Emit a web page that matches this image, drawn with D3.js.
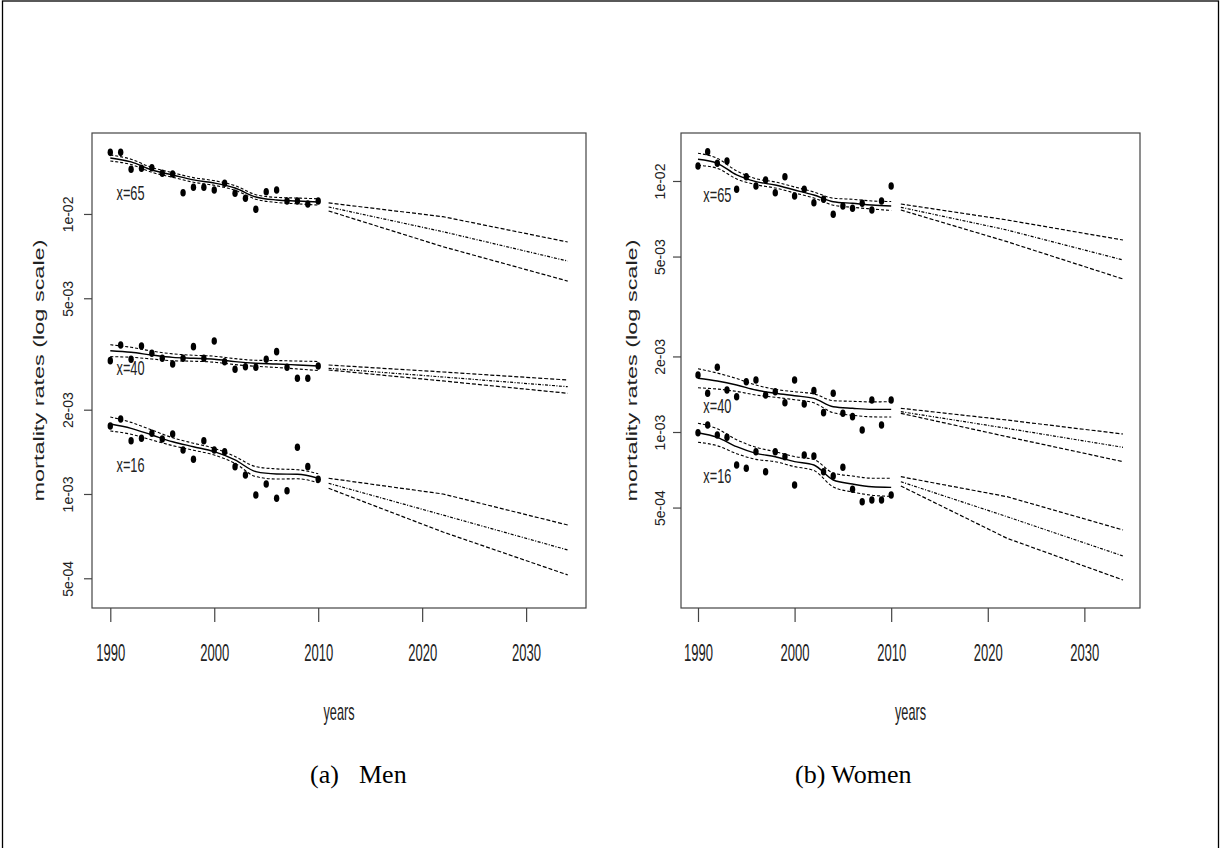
<!DOCTYPE html>
<html>
<head>
<meta charset="utf-8">
<script src="https://cdn.jsdelivr.net/npm/d3@7"></script>
<style>
	body { margin: 0; background: #fff; }
	svg { display: block; }
</style>
</head>
<body>
<script>
const WIDTH = 1220;
const HEIGHT = 848;
const SANS = "'Liberation Sans', Arial, sans-serif";
const SERIF = "'Liberation Serif', 'Times New Roman', serif";

// ---- axis ticks ----
const xTickValues = [1990, 2000, 2010, 2020, 2030];
const xTickLabels = ["1990", "2000", "2010", "2020", "2030"];
const yTickValues = [0.0005, 0.001, 0.002, 0.005, 0.01];
const yTickLabels = ["5e-04", "1e-03", "2e-03", "5e-03", "1e-02"];

// ---- observed rates, one per year ----
const obsYears = [1990, 1991, 1992, 1993, 1994, 1995, 1996, 1997, 1998, 1999, 2000,
	2001, 2002, 2003, 2004, 2005, 2006, 2007, 2008, 2009, 2010];

const menObs65 = [0.0166, 0.0166, 0.01444, 0.01456, 0.01463, 0.01397, 0.01389, 0.01191, 0.01246, 0.01246, 0.01218,
	0.01287, 0.01186, 0.01138, 0.01039, 0.01201, 0.01218, 0.01113, 0.01113, 0.01086, 0.01113];
const menObs40 = [0.002993, 0.003404, 0.003029, 0.003378, 0.003181, 0.003053, 0.002912, 0.003053, 0.003358, 0.003053, 0.003519,
	0.002968, 0.002788, 0.002848, 0.002835, 0.003029, 0.003223, 0.002835, 0.002589, 0.002589, 0.002865];
const menObs16 = [0.001749, 0.001853, 0.00155, 0.001581, 0.001647, 0.001572, 0.001637, 0.001436, 0.00133, 0.00155, 0.001436,
	0.001416, 0.001252, 0.001169, 0.000992, 0.001086, 0.000965, 0.001027, 0.001468, 0.001252, 0.001128];

const womenObs65 = [0.01147, 0.01308, 0.01176, 0.01201, 0.009267, 0.0104, 0.009552, 0.01009, 0.008982, 0.0104, 0.008715,
	0.009267, 0.008194, 0.008455, 0.007368, 0.007949, 0.007783, 0.00815, 0.007663, 0.008325, 0.009552];
const womenObs40 = [0.001687, 0.001426, 0.001811, 0.00147, 0.001382, 0.001586, 0.001611, 0.001404, 0.001447, 0.001308, 0.001611,
	0.001293, 0.001461, 0.001194, 0.001426, 0.001187, 0.001151, 0.001019, 0.001341, 0.001066, 0.001341];
const womenObs16 = [0.0009936, 0.001066, 0.0009727, 0.0009526, 0.0007387, 0.0007167, 0.0008346, 0.0006947, 0.0008346, 0.0007971, 0.0006149,
	0.0008096, 0.0008022, 0.0006947, 0.0006679, 0.0007233, 0.0005911, 0.0005277, 0.000536, 0.000536, 0.000561];

// ---- smoothed fit and its band ----
const fitYears = [1990, 1992, 1994, 1996, 1998, 2000, 2002, 2004, 2006, 2008, 2010];

const menFit65 = [0.01585, 0.01534, 0.01436, 0.01378, 0.01323, 0.0129, 0.01238, 0.0115, 0.01122, 0.01113, 0.01104];
const menHi65 = [0.01626, 0.01568, 0.01465, 0.01404, 0.01348, 0.01315, 0.01262, 0.01172, 0.01146, 0.0114, 0.01133];
const menLo65 = [0.01545, 0.01501, 0.01408, 0.01352, 0.01298, 0.01266, 0.01215, 0.01129, 0.01099, 0.01087, 0.01076];

const menFit40 = [0.003249, 0.003206, 0.003135, 0.003076, 0.003053, 0.003029, 0.002969, 0.002929, 0.002912, 0.002888, 0.002865];
const menHi40 = [0.003411, 0.003341, 0.003238, 0.003165, 0.003129, 0.003105, 0.003043, 0.003002, 0.002996, 0.002983, 0.002974];
const menLo40 = [0.003094, 0.003077, 0.003035, 0.002989, 0.002979, 0.002955, 0.002897, 0.002858, 0.00283, 0.002796, 0.00276];

const menFit16 = [0.001778, 0.001716, 0.001624, 0.001537, 0.001475, 0.001416, 0.001323, 0.001202, 0.001179, 0.001176, 0.001138];
const menHi16 = [0.001883, 0.001802, 0.001692, 0.001588, 0.001518, 0.001456, 0.001361, 0.001252, 0.001229, 0.001221, 0.001181];
const menLo16 = [0.001679, 0.001634, 0.001559, 0.001488, 0.001433, 0.001377, 0.001286, 0.001154, 0.001131, 0.001133, 0.001096];

const womenFit65 = [0.0122, 0.01176, 0.01057, 0.009936, 0.00964, 0.009208, 0.008794, 0.00827, 0.00815, 0.008024, 0.007949];
const womenHi65 = [0.01289, 0.01231, 0.01097, 0.01021, 0.00991, 0.009465, 0.00904, 0.00854, 0.008455, 0.008324, 0.008284];
const womenLo65 = [0.01155, 0.01123, 0.01019, 0.009666, 0.009378, 0.008958, 0.008555, 0.008009, 0.007856, 0.007735, 0.007628];

const womenFit40 = [0.001637, 0.001596, 0.001539, 0.00147, 0.001426, 0.001395, 0.001362, 0.001261, 0.001243, 0.001231, 0.001231];
const womenHi40 = [0.001786, 0.001717, 0.001633, 0.001539, 0.001479, 0.001447, 0.001419, 0.001333, 0.001325, 0.001318, 0.001321];
const womenLo40 = [0.0015, 0.001483, 0.001451, 0.001404, 0.001375, 0.001345, 0.001307, 0.001193, 0.001166, 0.001149, 0.001147];

const womenFit16 = [0.0009936, 0.0009526, 0.0008737, 0.0008225, 0.0007971, 0.000762, 0.0007387, 0.0006438, 0.0006205, 0.0006054, 0.000602];
const womenHi16 = [0.001084, 0.00103, 0.0009314, 0.0008694, 0.0008346, 0.0007978, 0.0007771, 0.0006863, 0.0006677, 0.0006544, 0.0006538];
const womenLo16 = [0.0009107, 0.0008812, 0.0008196, 0.0007781, 0.0007613, 0.0007278, 0.0007022, 0.000604, 0.0005767, 0.00056, 0.0005543];

// ---- projections (upper, central, lower) ----
const projYears = [2011, 2022, 2034];

const menProjHi65 = [0.01095, 0.00978, 0.00794];
const menProjMid65 = [0.01059, 0.008644, 0.00679];
const menProjLo65 = [0.01025, 0.007641, 0.00576];

const menProjHi40 = [0.002888, 0.002727, 0.002553];
const menProjMid40 = [0.002811, 0.002617, 0.002416];
const menProjLo40 = [0.002772, 0.002533, 0.002289];

const menProjHi16 = [0.001138, 0.001, 0.000775];
const menProjMid16 = [0.001092, 0.000841, 0.000631];
const menProjLo16 = [0.001048, 0.0007315, 0.000514];

const womenProjHi65 = [0.008096, 0.006994, 0.005819];
const womenProjMid65 = [0.007855, 0.006379, 0.004846];
const womenProjLo65 = [0.007663, 0.005731, 0.00407];

const womenProjHi40 = [0.001243, 0.001116, 0.0009817];
const womenProjMid40 = [0.001205, 0.001034, 0.000869];
const womenProjLo40 = [0.001187, 0.0009578, 0.000762];

const womenProjHi16 = [0.0006636, 0.0005525, 0.0004071];
const womenProjMid16 = [0.0006339, 0.0004598, 0.0003206];
const womenProjLo16 = [0.0006093, 0.0003771, 0.0002573];

// where the age labels sit (year, rate)
const ageNames = ["x=65", "x=40", "x=16"];
const menLabelAt = [[1990.6, 0.01122], [1990.6, 0.00266], [1990.6, 0.0012]];
const womenLabelAt = [[1990.55, 0.008247], [1990.55, 0.00119], [1990.55, 0.000626]];

const svg = d3.select("body").append("svg")
	.attr("width", WIDTH)
	.attr("height", HEIGHT);

// outer frame of the figure
svg.append("rect")
	.attr("x", 2.5).attr("y", 1)
	.attr("width", 1216).attr("height", 900)
	.attr("fill", "none")
	.attr("stroke", "#000")
	.attr("stroke-width", 1.3);

const panels = [
	{
		left: 92, right: 586, top: 133, bottom: 608,
		yDomain: [0.01946, 0.0003916],
		titleX: 44, labelOff: 19,
		captionParts: [["(a)", 310], ["Men", 359]],
		labelAt: menLabelAt,
		series: [
			[menObs65, menFit65, menHi65, menLo65, menProjHi65, menProjMid65, menProjLo65],
			[menObs40, menFit40, menHi40, menLo40, menProjHi40, menProjMid40, menProjLo40],
			[menObs16, menFit16, menHi16, menLo16, menProjHi16, menProjMid16, menProjLo16]
		]
	},
	{
		left: 681, right: 1140, top: 133, bottom: 608,
		yDomain: [0.01553, 0.000199],
		titleX: 637, labelOff: 16,
		captionParts: [["(b) Women", 795]],
		labelAt: womenLabelAt,
		series: [
			[womenObs65, womenFit65, womenHi65, womenLo65, womenProjHi65, womenProjMid65, womenProjLo65],
			[womenObs40, womenFit40, womenHi40, womenLo40, womenProjHi40, womenProjMid40, womenProjLo40],
			[womenObs16, womenFit16, womenHi16, womenLo16, womenProjHi16, womenProjMid16, womenProjLo16]
		]
	}
];

function drawPanel(p) {
	const g = svg.append("g");

	const x = d3.scaleLinear().domain([1988.24, 2035.76]).range([p.left, p.right]);
	const y = d3.scaleLog().domain(p.yDomain).range([p.top, p.bottom]);

	const smooth = d3.line().x((d, i) => x(fitYears[i])).y(d => y(d)).curve(d3.curveMonotoneX);
	const straight = d3.line().x((d, i) => x(projYears[i])).y(d => y(d));

	p.series.forEach((s, k) => {
		const [obs, fit, hi, lo, pHi, pMid, pLo] = s;

		// fitted band
		[hi, lo].forEach(band => {
			g.append("path")
				.attr("d", smooth(band))
				.attr("fill", "none")
				.attr("stroke", "#000")
				.attr("stroke-width", 1.1)
				.attr("stroke-dasharray", "3,2");
		});
		g.append("path")
			.attr("d", smooth(fit))
			.attr("fill", "none")
			.attr("stroke", "#000")
			.attr("stroke-width", 1.4);

		// projections
		[[pHi, "4,2"], [pMid, "3,1.5,1,1.5"], [pLo, "4,2"]].forEach(([vals, dash]) => {
			g.append("path")
				.attr("d", straight(vals))
				.attr("fill", "none")
				.attr("stroke", "#000")
				.attr("stroke-width", 1.2)
				.attr("stroke-dasharray", dash);
		});

		// observed points
		g.selectAll(null)
			.data(obs)
			.enter()
			.append("ellipse")
			.attr("cx", (d, i) => x(obsYears[i]))
			.attr("cy", d => y(d))
			.attr("rx", 2.7)
			.attr("ry", 3.8)
			.attr("fill", "#000");

		// age label
		g.append("text")
			.attr("x", x(p.labelAt[k][0]))
			.attr("y", y(p.labelAt[k][1]))
			.attr("font-family", SANS)
			.attr("font-size", 21)
			.attr("textLength", 28)
			.attr("lengthAdjust", "spacingAndGlyphs")
			.attr("fill", "#222")
			.text(ageNames[k]);
	});

	// plot box
	g.append("rect")
		.attr("x", p.left).attr("y", p.top)
		.attr("width", p.right - p.left).attr("height", p.bottom - p.top)
		.attr("fill", "none")
		.attr("stroke", "#444")
		.attr("stroke-width", 1.2);

	// x axis
	g.append("g")
		.attr("transform", `translate(0,${p.bottom})`)
		.call(d3.axisBottom(x).tickValues(xTickValues).tickFormat((d, i) => xTickLabels[i]).tickSize(14).tickSizeOuter(0))
		.attr("font-family", SANS)
		.call(a => a.select(".domain").remove())
		.call(a => a.selectAll("line").attr("stroke", "#444").attr("stroke-width", 1.2))
		.call(a => a.selectAll("text")
			.attr("y", 53).attr("dy", null)
			.attr("font-size", 23)
			.attr("textLength", 29)
			.attr("lengthAdjust", "spacingAndGlyphs")
			.attr("fill", "#222"));

	// y axis, labels turned
	g.append("g")
		.attr("transform", `translate(${p.left},0)`)
		.call(d3.axisLeft(y).tickValues(yTickValues).tickFormat((d, i) => yTickLabels[i]).tickSize(8).tickSizeOuter(0))
		.attr("font-family", SANS)
		.call(a => a.select(".domain").remove())
		.call(a => a.selectAll("line").attr("stroke", "#444").attr("stroke-width", 1.2))
		.call(a => a.selectAll("text")
			.attr("x", null).attr("dy", null)
			.attr("text-anchor", "middle")
			.attr("transform", `translate(${-p.labelOff},0) rotate(-90)`)
			.attr("font-size", 14)
			.attr("fill", "#222"));

	// axis titles
	const midX = (p.left + p.right) / 2;
	const midY = (p.top + p.bottom) / 2;
	g.append("text")
		.attr("transform", `translate(${p.titleX},${midY}) rotate(-90)`)
		.attr("text-anchor", "middle")
		.attr("font-family", SANS)
		.attr("font-size", 15)
		.attr("textLength", 262)
		.attr("lengthAdjust", "spacingAndGlyphs")
		.attr("fill", "#222")
		.text("mortality rates (log scale)");

	g.append("text")
		.attr("x", midX).attr("y", 720)
		.attr("text-anchor", "middle")
		.attr("font-family", SANS)
		.attr("font-size", 24)
		.attr("textLength", 31)
		.attr("lengthAdjust", "spacingAndGlyphs")
		.attr("fill", "#222")
		.text("years");

	// caption under the panel
	p.captionParts.forEach(([txt, cx]) => {
		g.append("text")
			.attr("x", cx).attr("y", 783)
			.attr("font-family", SERIF)
			.attr("font-size", 26)
			.attr("fill", "#000")
			.text(txt);
	});
}

panels.forEach(drawPanel);
</script>
</body>
</html>
